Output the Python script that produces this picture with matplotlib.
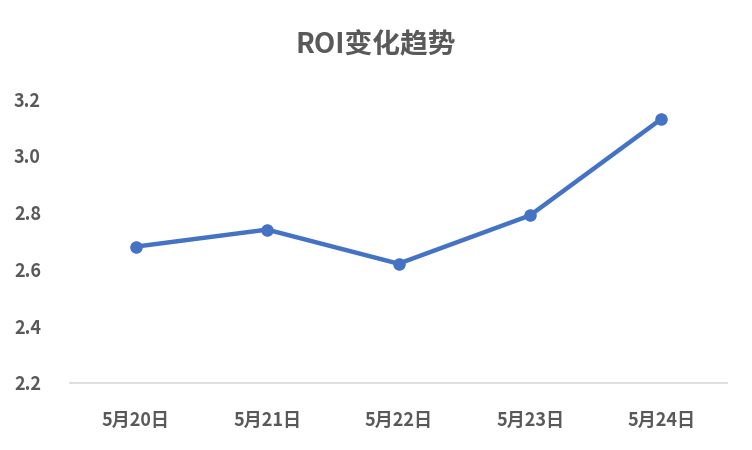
import matplotlib.pyplot as plt

plt.rcParams['font.family'] = ['Noto Sans CJK SC', 'DejaVu Sans']

dates = ['5月20日', '5月21日', '5月22日', '5月23日', '5月24日']
roi = [2.68, 2.74, 2.62, 2.79, 3.13]
yticks = [2.2, 2.4, 2.6, 2.8, 3.0, 3.2]

fig = plt.figure(figsize=(7.52, 4.5), dpi=100)
ax = fig.add_axes([0.093, 0.149, 0.874, 0.631])

ax.plot(range(len(dates)), roi, color='#4472C4', linewidth=3.2,
        marker='o', markersize=8, clip_on=False, zorder=3)

ax.set_xlim(-0.5, len(dates) - 0.5)
ax.set_ylim(2.2, 3.2)
ax.set_yticks(yticks)
ax.set_yticklabels([f'{v:.1f}' for v in yticks])
ax.set_xticks(range(len(dates)))
ax.set_xticklabels(dates)

for s in ['top', 'right', 'left']:
    ax.spines[s].set_visible(False)
ax.spines['bottom'].set_color('#d9d9d9')
ax.spines['bottom'].set_linewidth(1.2)

ax.tick_params(axis='both', length=0, colors='#595959', labelsize=13)
ax.tick_params(axis='y', pad=26)
ax.tick_params(axis='x', pad=20)
for lab in ax.get_xticklabels() + ax.get_yticklabels():
    lab.set_fontstyle('italic')
    lab.set_fontweight('bold')
    lab.set_ha('center') if lab in ax.get_xticklabels() else lab.set_ha('left')

for lab in ax.get_yticklabels():
    lab.set_x(-0.085)
    lab.set_transform(ax.get_yaxis_transform())

fig.text(0.5, 0.9, 'ROI变化趋势', ha='center', va='center', fontsize=20,
         fontweight='bold', fontstyle='italic', color='#595959')

fig.savefig('out.png', dpi=100, facecolor='white')
